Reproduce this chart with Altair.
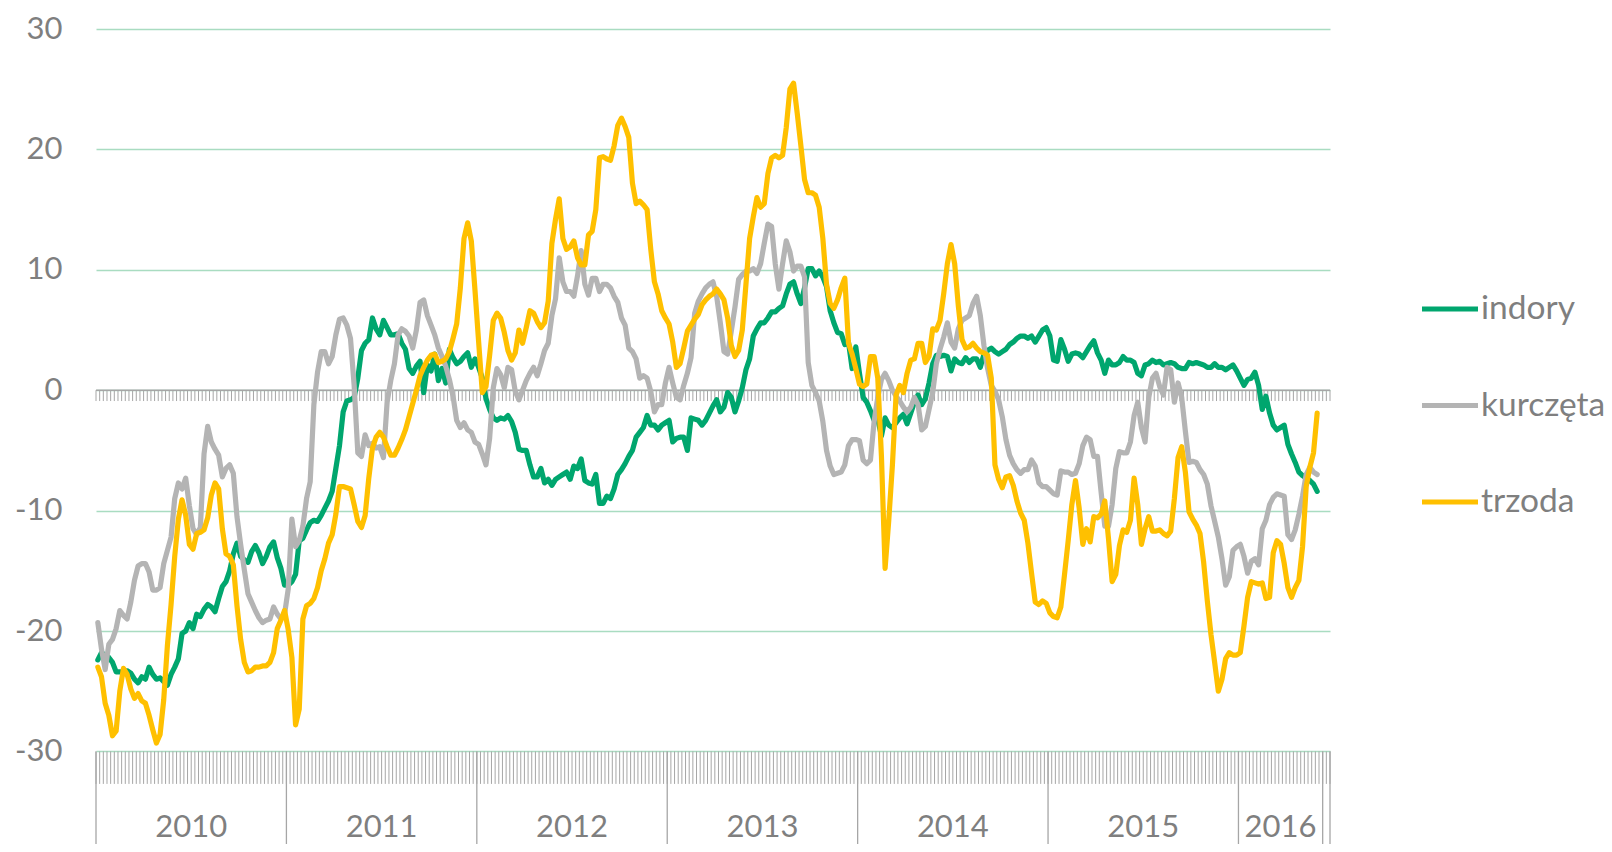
import altair as alt
import pandas as pd

# ---------------- data (weekly values, 2010 week 1 .. 2016 week 22) ----------------
indory = [
    -22.4, -21.8, -22.0, -22.2, -22.6, -23.4, -23.4, -23.4, -23.3, -23.5,
    -24.0, -24.3, -23.8, -24.0, -23.0, -23.6, -24.0, -23.9, -24.2, -24.5,
    -23.6, -23.0, -22.3, -20.2, -20.0, -19.3, -19.8, -18.6, -18.8, -18.2,
    -17.8, -18.0, -18.4, -17.3, -16.3, -15.9, -15.0, -13.6, -12.7, -13.8,
    -14.1, -14.3, -13.4, -12.9, -13.5, -14.4, -13.8, -13.0, -12.6, -13.9,
    -14.8, -16.2, -16.2, -15.9, -15.3, -12.5, -12.3, -11.6, -11.0, -10.8,
    -10.9, -10.4, -9.8, -9.2, -8.4, -6.5, -4.6,
    -1.8, -0.9, -0.8, -0.6, 1.0, 3.3, 3.9, 4.2, 6.0, 5.1,
    4.6, 5.8, 5.2, 4.6, 4.6, 4.7, 3.9, 3.4, 1.8, 1.4,
    2.0, 2.4, -0.2, 2.1, 1.6, 3.0, 0.8, 1.8, 0.6, 3.4,
    2.7, 2.2, 2.4, 2.8, 3.1, 1.9, 2.6, 1.9, 1.0, -0.7,
    -1.6, -2.3, -2.5, -2.3, -2.4, -2.1, -2.6, -3.5, -4.9, -5.0,
    -5.0, -6.2, -7.2, -7.2, -6.5, -7.7, -7.4, -7.9, -7.4, -7.2,
    -7.0, -6.8, -7.4, -6.3, -6.5, -5.7, -7.5, -7.7,
    -7.8, -7.0, -9.4, -9.4, -8.8, -9.0, -8.2, -7.0, -6.6, -6.1,
    -5.5, -5.0, -3.9, -3.5, -3.1, -2.1, -2.9, -2.9, -3.3, -2.9,
    -2.7, -2.5, -4.3, -4.0, -3.9, -3.9, -5.0, -2.3, -2.4, -2.5,
    -2.9, -2.5, -1.9, -1.3, -0.8, -1.8, -1.4, -0.2, -0.6, -1.8,
    -0.9, 0.2, 1.7, 2.6, 4.5, 5.1, 5.6, 5.6, 6.0, 6.5,
    6.5, 6.8, 7.0, 8.0, 8.8, 9.0, 8.0, 7.2, 8.5, 10.1,
    10.1, 9.5, 9.9, 9.4, 8.6, 6.6, 5.6, 4.8,
    4.7, 3.8, 4.0, 1.8, 3.6, 1.4, -0.6, -1.0, -1.7, -2.5,
    -2.4, -3.8, -2.3, -2.9, -3.1, -2.7, -2.3, -2.0, -2.8, -1.9,
    -1.0, -0.4, -1.2, -0.7, 0.6, 2.2, 2.9, 2.8, 2.9, 2.8,
    1.6, 2.6, 2.3, 2.2, 2.7, 2.3, 2.6, 2.6, 1.9, 3.0,
    3.3, 3.5, 3.2, 3.0, 3.2, 3.4, 3.8, 4.0, 4.3, 4.5,
    4.5, 4.3, 4.5, 4.0, 4.5, 5.0, 5.2, 4.5, 2.5, 2.4,
    4.2, 3.4, 2.4, 3.0, 3.1, 3.0, 2.7, 3.2,
    3.7, 4.1, 3.1, 2.5, 1.4, 2.5, 2.1, 2.1, 2.3, 2.8,
    2.5, 2.5, 2.3, 1.4, 1.2, 2.1, 2.2, 2.5, 2.3, 2.4,
    2.1, 2.2, 2.3, 2.2, 1.9, 1.8, 1.8, 2.3, 2.2, 2.3,
    2.2, 2.1, 1.9, 1.9, 2.2, 1.9, 1.9, 1.7, 1.9, 2.1,
    1.6, 1.0, 0.4, 0.9, 1.0, 1.5, 0.4, -1.6, -0.5, -1.9,
    -2.9, -3.3, -3.1, -2.9, -4.5, -5.3, -6.0, -6.8, -7.1, -7.3,
    -7.5, -7.8, -8.4,
]

kurczeta = [
    -19.3, -21.5, -23.2, -21.1, -20.7, -19.8, -18.3, -18.7, -19.0, -17.6,
    -15.8, -14.6, -14.4, -14.4, -15.1, -16.6, -16.6, -16.4, -14.4, -13.3,
    -12.2, -9.0, -7.7, -8.2, -7.3, -9.6, -11.5, -12.0, -11.4, -5.3,
    -3.0, -4.3, -4.9, -5.4, -7.2, -6.5, -6.2, -6.9, -10.5, -12.8,
    -14.9, -16.9, -17.6, -18.3, -18.9, -19.3, -19.1, -19.0, -18.0, -18.6,
    -19.0, -18.6, -16.5, -10.7, -13.0, -12.5, -11.3, -9.0, -7.6, -1.2,
    1.5, 3.2, 3.2, 2.2, 2.8, 4.6, 5.9,
    6.0, 5.4, 4.3, 0.4, -5.2, -5.5, -3.7, -4.6, -4.4, -4.8,
    -4.7, -5.6, -1.0, 0.8, 2.2, 4.6, 5.1, 4.9, 4.5, 3.5,
    5.0, 7.3, 7.5, 6.2, 5.4, 4.6, 3.5, 2.8, 2.0, 0.9,
    -0.5, -2.5, -3.1, -2.7, -3.3, -3.5, -4.3, -4.5, -5.3, -6.2,
    -4.0, 0.2, 1.8, 1.3, 0.2, 1.9, 1.7, -0.1, -0.8, 0.0,
    0.8, 1.4, 1.9, 1.2, 2.2, 3.3, 3.9, 6.2, 7.6, 11.0,
    9.0, 8.2, 8.2, 7.8, 9.5, 11.6, 8.8, 7.9,
    9.3, 9.3, 8.2, 8.8, 8.8, 8.5, 7.8, 7.3, 6.0, 5.4,
    3.5, 3.2, 2.6, 1.0, 1.2, 1.0, -0.1, -1.8, -1.2, -1.2,
    0.6, 1.9, 0.6, -0.6, -0.8, 0.4, 1.4, 2.7, 6.4, 7.4,
    8.0, 8.5, 8.8, 9.0, 7.8, 5.6, 3.2, 3.0, 4.9, 6.9,
    9.2, 9.6, 9.9, 9.9, 10.1, 9.7, 10.5, 12.2, 13.8, 13.6,
    10.5, 8.4, 10.5, 12.4, 11.5, 9.9, 10.3, 10.3, 9.4, 2.3,
    0.4, -0.2, -0.9, -2.6, -5.0, -6.3, -7.0, -6.9,
    -6.8, -6.2, -4.6, -4.1, -4.1, -4.2, -5.8, -6.1, -5.8, -2.6,
    -0.6, 0.9, 1.4, 0.8, 0.0, -0.5, -0.9, -1.4, -1.8, -1.4,
    -0.6, -1.2, -3.3, -3.0, -1.6, -0.2, 2.2, 3.4, 4.4, 5.6,
    4.0, 3.5, 5.1, 5.8, 6.0, 6.2, 7.2, 7.8, 6.2, 3.7,
    1.8, 0.4, -0.1, -0.8, -2.2, -4.1, -5.4, -6.1, -6.6, -6.9,
    -6.6, -6.6, -5.8, -6.3, -7.7, -8.0, -8.0, -8.3, -8.6, -8.7,
    -6.7, -6.8, -6.8, -7.0, -6.9, -6.1, -4.6, -3.9,
    -4.1, -5.5, -5.5, -8.5, -11.3, -11.3, -9.5, -6.5, -5.1, -5.2,
    -5.2, -4.3, -2.1, -1.0, -3.1, -4.3, -0.6, 1.0, 1.4, 0.3,
    -0.4, 1.9, 1.7, -1.0, 0.6, -0.6, -3.4, -6.0, -5.9, -6.0,
    -6.6, -7.0, -7.8, -9.6, -10.9, -12.2, -14.0, -16.2, -15.5, -13.3,
    -13.0, -12.8, -13.8, -15.2, -14.2, -14.0, -14.5, -11.5, -10.8, -9.5,
    -8.9, -8.6, -8.7, -8.8, -12.0, -12.4, -11.6, -10.3, -8.8, -7.0,
    -6.4, -6.8, -7.0,
]

trzoda = [
    -23.0, -23.8, -26.0, -27.0, -28.7, -28.3, -25.0, -23.1, -23.6, -24.8,
    -25.6, -25.2, -25.8, -26.0, -27.0, -28.2, -29.3, -28.6, -25.7, -21.2,
    -17.8, -13.8, -10.7, -9.1, -10.4, -12.8, -13.2, -11.9, -11.8, -11.6,
    -10.6, -8.7, -7.7, -8.2, -11.5, -13.6, -13.8, -14.5, -17.9, -20.7,
    -22.6, -23.4, -23.3, -23.0, -23.0, -22.9, -22.9, -22.6, -21.8, -19.8,
    -19.1, -18.3, -19.9, -22.2, -27.8, -26.5, -19.0, -17.9, -17.7, -17.3,
    -16.4, -15.0, -14.0, -12.7, -12.0, -10.3, -8.0,
    -8.0, -8.1, -8.2, -9.5, -10.9, -11.4, -10.4, -7.3, -4.8, -3.9,
    -3.5, -3.9, -4.7, -5.4, -5.4, -4.8, -4.1, -3.3, -2.2, -1.1,
    0.0, 1.2, 1.9, 2.5, 2.9, 3.0, 2.3, 2.4, 2.6, 3.2,
    4.3, 5.5, 8.5, 12.6, 13.9, 12.4, 8.3, 4.0, -0.2, 0.3,
    2.9, 5.8, 6.4, 6.0, 4.8, 3.3, 2.5, 3.1, 5.0, 3.9,
    5.2, 6.6, 6.4, 5.7, 5.2, 5.6, 7.4, 12.2, 14.2, 15.9,
    12.6, 11.7, 11.9, 12.4, 11.0, 10.4, 10.4, 12.9,
    13.2, 15.0, 19.3, 19.4, 19.2, 19.1, 20.3, 22.0, 22.6, 21.9,
    21.0, 17.2, 15.5, 15.7, 15.4, 15.0, 11.7, 9.0, 8.0, 6.6,
    6.0, 5.5, 4.0, 1.9, 2.2, 3.5, 4.9, 5.4, 5.9, 6.3,
    7.1, 7.5, 7.8, 8.0, 8.4, 8.0, 7.5, 6.0, 3.7, 2.8,
    3.3, 5.0, 8.8, 12.6, 14.4, 16.0, 15.2, 15.5, 18.0, 19.3,
    19.5, 19.3, 19.5, 21.8, 25.0, 25.5, 23.0, 20.3, 17.5, 16.4,
    16.4, 16.2, 15.2, 12.6, 8.8, 7.2, 6.8, 7.5,
    8.5, 9.3, 3.9, 3.0, 1.8, 0.5, 0.3, 0.5, 2.8, 2.8,
    1.0, -5.5, -14.8, -10.8, -6.2, -0.4, 0.4, -0.2, 1.4, 2.5,
    2.6, 3.9, 3.9, 2.3, 2.8, 5.1, 5.0, 5.8, 8.0, 10.5,
    12.1, 10.5, 7.0, 4.2, 3.5, 3.6, 3.9, 3.5, 3.2, 3.1,
    2.9, 1.0, -6.2, -7.4, -8.1, -7.2, -7.1, -7.9, -9.2, -10.2,
    -10.8, -12.7, -15.2, -17.6, -17.8, -17.5, -17.7, -18.5, -18.8, -18.9,
    -18.0, -15.3, -12.5, -9.5, -7.5, -9.8, -12.8, -11.5,
    -12.6, -10.5, -10.6, -10.3, -9.2, -12.3, -15.9, -15.3, -12.9, -11.6,
    -11.8, -10.8, -7.3, -9.5, -12.8, -11.5, -10.5, -11.7, -11.7, -11.6,
    -11.9, -12.1, -11.7, -9.0, -5.6, -4.7, -6.8, -10.1, -10.7, -11.2,
    -11.9, -14.3, -17.5, -20.3, -22.6, -25.0, -24.0, -22.3, -21.8, -22.0,
    -22.0, -21.8, -19.6, -17.2, -15.9, -16.0, -16.1, -16.0, -17.3, -17.2,
    -13.5, -12.5, -12.8, -14.4, -16.4, -17.2, -16.4, -15.8, -13.0, -8.0,
    -6.4, -5.2, -1.9,
]

series_names = ["indory", "kurczęta", "trzoda"]
years = ["2010", "2011", "2012", "2013", "2014", "2015", "2016"]
weeks_per_year = [52, 52, 52, 52, 52, 52, 23]
y_ticks = [-30, -20, -10, 0, 10, 20, 30]

# ---------------- styling ----------------
COLORS = ["#00A66E", "#B4B4B4", "#FFC000"]
TEXT = "#7F7F7F"
AXIS_GRAY = "#A6A6A6"
GRID = "#A9DCC1"
FONT = "Lato"

n = len(indory)
n_slots = sum(weeks_per_year) + 2          # category axis slots
Y_MIN, Y_MAX = -37.69, 30

df = pd.DataFrame({
    "tydzien": [i + 0.5 for i in range(n)] * 3,
    "wartosc": indory + kurczeta + trzoda,
    "seria": [series_names[0]] * n + [series_names[1]] * n + [series_names[2]] * n,
})

# year boundaries / label positions derived from the weeks per year
starts = [sum(weeks_per_year[:k]) for k in range(len(years))]
ends = [s + w for s, w in zip(starts, weeks_per_year)]
year_lbl = pd.DataFrame({"x": [(s + e) / 2 for s, e in zip(starts, ends)],
                         "y": [-36.34] * len(years), "rok": years})
bounds = pd.DataFrame({"x": starts + [ends[-1], n_slots],
                       "y0": [-30] * (len(starts) + 2),
                       "y1": [Y_MIN] * (len(starts) + 2)})
ticks_zero = pd.DataFrame({"x": list(range(n_slots + 1)),
                           "y0": [0] * (n_slots + 1), "y1": [-0.9] * (n_slots + 1)})
ticks_bottom = pd.DataFrame({"x": list(range(n_slots + 1)),
                             "y0": [-30] * (n_slots + 1), "y1": [-32.7] * (n_slots + 1)})
zero_line = pd.DataFrame({"x0": [0], "x1": [n_slots], "y": [0]})

xs = alt.Scale(domain=[0, n_slots], nice=False, zero=False)
ys = alt.Scale(domain=[Y_MIN, Y_MAX], nice=False, zero=False)
yaxis = alt.Axis(values=y_ticks, grid=True, gridColor=GRID, gridWidth=1.3,
                 domain=False, ticks=False, tickSize=0, labelFontSize=31,
                 labelColor=TEXT, labelFont=FONT, labelPadding=34, title=None,
                 labelExpr="'' + datum.value")

zero = alt.Chart(zero_line).mark_rule(color=AXIS_GRAY, strokeWidth=1.4).encode(
    x=alt.X("x0:Q", scale=xs, axis=None), x2="x1:Q",
    y=alt.Y("y:Q", scale=ys, axis=yaxis))

tz = alt.Chart(ticks_zero).mark_rule(color=AXIS_GRAY, strokeWidth=1).encode(
    x=alt.X("x:Q", scale=xs, axis=None),
    y=alt.Y("y0:Q", scale=ys, axis=yaxis), y2="y1:Q")

tb = alt.Chart(ticks_bottom).mark_rule(color=AXIS_GRAY, strokeWidth=1).encode(
    x=alt.X("x:Q", scale=xs, axis=None),
    y=alt.Y("y0:Q", scale=ys, axis=yaxis), y2="y1:Q")

bl = alt.Chart(bounds).mark_rule(color=AXIS_GRAY, strokeWidth=1.3).encode(
    x=alt.X("x:Q", scale=xs, axis=None),
    y=alt.Y("y0:Q", scale=ys, axis=yaxis), y2="y1:Q")

yl = alt.Chart(year_lbl).mark_text(font=FONT, fontSize=31, color=TEXT,
                                   baseline="middle", align="center").encode(
    x=alt.X("x:Q", scale=xs, axis=None),
    y=alt.Y("y:Q", scale=ys, axis=yaxis), text="rok:N")

lines = alt.Chart(df).mark_line(strokeWidth=5.2, strokeJoin="round", strokeCap="round").encode(
    x=alt.X("tydzien:Q", scale=xs, axis=None),
    y=alt.Y("wartosc:Q", scale=ys, axis=yaxis),
    color=alt.Color("seria:N", scale=alt.Scale(domain=series_names, range=COLORS),
                    sort=series_names,
                    legend=alt.Legend(title=None, orient="none", legendX=1323, legendY=249,
                                      symbolType="stroke", symbolStrokeWidth=5.2,
                                      symbolSize=3136, labelFontSize=33.5, labelFont=FONT,
                                      labelColor=TEXT, rowPadding=48.5, labelOffset=0,
                                      padding=0)),
    order=alt.Order("tydzien:Q"),
)

chart = alt.layer(zero, tz, tb, bl, yl, lines).properties(
    width=1234, height=815,
    autosize=alt.AutoSizeParams(type="none"),
    padding={"left": 88, "top": 21, "right": 274, "bottom": 0},
).configure(font=FONT, background="white").configure_view(stroke=None)

chart.save("out.html", embed_options={"renderer": "svg", "actions": False})
